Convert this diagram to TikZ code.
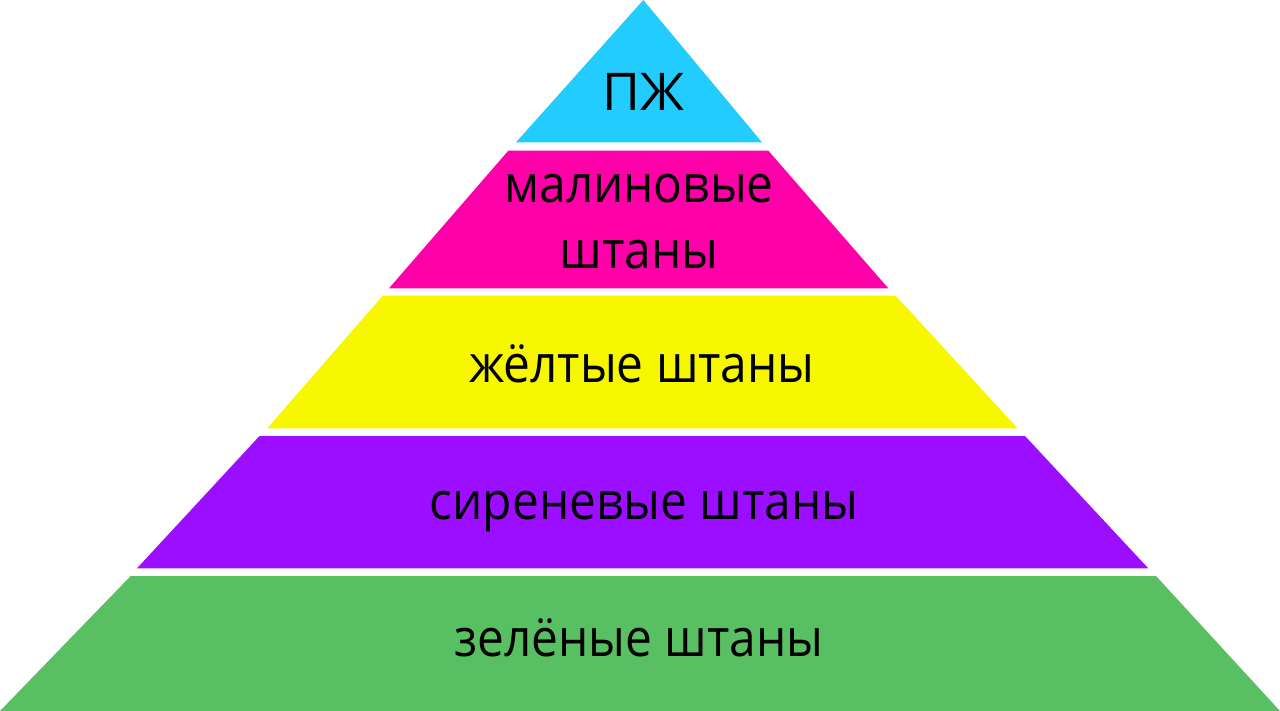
\documentclass[tikz,border=0pt]{standalone}
\usepackage{fontspec}
\setmainfont{Open Sans}
\newfontfamily\narrowsans{Open Sans}[FakeStretch=0.92]
\usepackage{tikz}
\usetikzlibrary{positioning}

\definecolor{pzhcyan}{RGB}{34,204,255}
\definecolor{raspberry}{RGB}{255,0,168}
\definecolor{yellowish}{RGB}{247,247,0}
\definecolor{lilac}{RGB}{155,14,255}
\definecolor{greenish}{RGB}{88,191,98}

\begin{document}
\begin{tikzpicture}
[x=1pt,y=-1pt,
   lbl/.style={anchor=base,inner sep=0pt,font=\narrowsans\fontsize{52}{66}\selectfont,text=black},
   layer/.style={draw=none}]
\useasboundingbox (0,0) rectangle (1280,711);
% layers, top to bottom
\fill[layer,pzhcyan] (643.3,0) -- (762,142.3) -- (516,142.3) -- cycle;
\fill[layer,raspberry] (508.3,150.7) -- (768.3,150.7) -- (888.3,288.3) -- (389,288.3) -- cycle;
\fill[layer,yellowish] (382.7,295.7) -- (895.7,295.7) -- (1017.7,428.3) -- (267.3,428.3) -- cycle;
\fill[layer,lilac] (259.5,436) -- (1025,436) -- (1148.3,568.3) -- (137,568.3) -- cycle;
\fill[layer,greenish] (130.7,576) -- (1156,576) -- (1280,711) -- (0,711) -- cycle;
% texts
\node[lbl,font=\fontsize{52}{66}\selectfont] (pzh) at (643,110.7) {ПЖ};
\node[lbl,align=center] (crimson) at (639,268.3) {малиновые\\штаны};
\node[lbl] (yellow) at (642,382.7) {жёлтые штаны};
\node[lbl] (lilacpants) at (644,519.3) {сиреневые штаны};
\node[lbl] (green) at (639,656) {зелёные штаны};
\end{tikzpicture}
\end{document}
